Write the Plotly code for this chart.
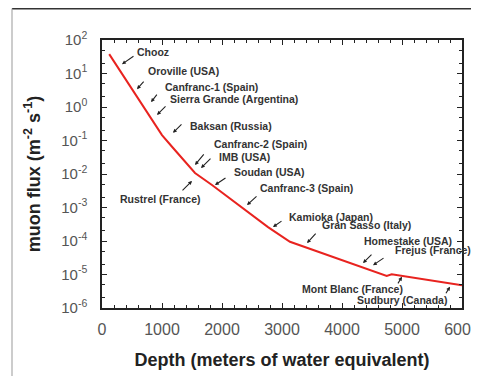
import math
import plotly.graph_objects as go

# ---- data ----
depth_mwe = [120, 400, 700, 1000, 1167, 1550, 1833, 2217, 2767, 3133, 3900, 4745, 4828, 5400, 6000]
muon_flux = [38, 6.4, 0.96, 0.145, 0.065, 0.0107, 0.0047, 0.00145, 2.6e-4, 9.5e-5, 3.1e-5, 9.1e-6, 1.02e-5, 7.1e-6, 4.8e-6]

sites = ["Chooz", "Oroville (USA)", "Canfranc-1 (Spain)", "Sierra Grande (Argentina)",
         "Baksan (Russia)", "Canfranc-2 (Spain)", "IMB (USA)", "Soudan (USA)",
         "Rustrel (France)", "Canfranc-3 (Spain)", "Kamioka (Japan)", "Gran Sasso (Italy)",
         "Homestake (USA)", "Frejus (France)", "Mont Blanc (France)", "Sudbury (Canada)"]
site_depth = [333, 583, 817, 917, 1183, 1550, 1650, 1883, 1500, 2417, 2850, 3417, 4350, 4517, 5000, 5800]
site_flux = [19, 3.4, 1.4, 0.58, 0.17, 0.0186, 0.015, 0.0047, 0.0062, 0.00118, 2.6e-4, 8.7e-5, 2.2e-5, 1.9e-5, 8.5e-6, 4.3e-6]

y_tickvals = [1e-6, 1e-5, 1e-4, 1e-3, 1e-2, 1e-1, 1, 10, 100]
y_ticktext = ["10<sup>-6</sup>", "10<sup>-5</sup>", "10<sup>-4</sup>", "10<sup>-3</sup>", "10<sup>-2</sup>",
              "10<sup>-1</sup>", "10<sup>0</sup>", "10<sup>1</sup>", "10<sup>2</sup>"]
x_tickvals = [0, 1000, 2000, 3000, 4000, 5000, 6000]

# ---- layout helpers (pixel offsets of arrow tails and label anchors) ----
arrow_tail = [(13, -9), (8, -9), (7, -9), (10, -10), (10, -10), (10, -12), (11, -11), (12, -8),
              (-11, 11), (11, -10), (10, -7), (10, -11), (10, -10), (12, -8), (-5, 8), (-5, 8)]
text_off = [(13, -12), (9, -18), (12, -15), (11, -16), (15, -7), (17, -21), (16, -11), (17, -13),
            (-74, 18), (11, -17), (14, -10), (13, -18), (-1, -22), (20, -15), (-102, 12), (-95, 13)]

fig = go.Figure()
fig.add_trace(go.Scatter(x=depth_mwe, y=muon_flux, mode="lines",
                         line=dict(color="#e8231f", width=2), showlegend=False,
                         hoverinfo="skip", cliponaxis=False))
# invisible copy on the mirrored (top/right) axes so they get drawn with their own ticks
fig.add_trace(go.Scatter(x=depth_mwe, y=muon_flux, mode="lines", xaxis="x2", yaxis="y2",
                         line=dict(color="rgba(0,0,0,0)", width=0), showlegend=False,
                         hoverinfo="skip"))

annotations = []
for name, d, f, (tx, ty), (ox, oy) in zip(sites, site_depth, site_flux, arrow_tail, text_off):
    annotations.append(dict(x=d, y=math.log10(f), xref="x", yref="y", text="",
                            showarrow=True, ax=tx, ay=ty, arrowhead=2, arrowsize=0.7,
                            arrowwidth=1.1, arrowcolor="#222"))
    annotations.append(dict(x=d, y=math.log10(f), xref="x", yref="y", text="<b>" + name + "</b>",
                            showarrow=False, xanchor="left", yanchor="middle",
                            xshift=ox, yshift=-oy,
                            font=dict(family="Liberation Sans, Arial", size=10.5, color="#333")))

tick_style = dict(ticks="inside", ticklen=5, tickwidth=1, tickcolor="#222", showline=True,
                  linecolor="#222", linewidth=1.5, showgrid=False, zeroline=False, automargin=False)

# the page adds an 8 px body margin, so the figure is sized/positioned accordingly
fig.update_layout(
    width=471, height=368,
    margin=dict(l=94, r=17, t=32, b=68),
    paper_bgcolor="white", plot_bgcolor="white",
    font=dict(family="Liberation Sans, Arial", color="#555"),
    annotations=annotations,
    shapes=[
        dict(type="line", xref="paper", yref="paper", x0=-0.25, x1=1.1, y0=1.1175, y1=1.1175,
             line=dict(color="#333", width=2)),
        dict(type="line", xref="paper", yref="paper", x0=-0.25, x1=-0.25, y0=1.1175, y1=-0.26,
             line=dict(color="#999", width=1)),
    ],
    xaxis=dict(range=[0, 6000], tickvals=x_tickvals, ticklabeloverflow="allow",
               minor=dict(dtick=200, ticks="inside", ticklen=3, tickcolor="#222", showgrid=False),
               tickfont=dict(size=16, color="#555"), ticklabelstandoff=6,
               title=dict(text="<b>Depth (meters of water equivalent)</b>", standoff=16,
                          font=dict(size=18, color="#222")), **tick_style),
    yaxis=dict(type="log", range=[-6, 2], tickvals=y_tickvals, ticktext=y_ticktext,
               ticklabeloverflow="allow",
               minor=dict(ticks="inside", ticklen=3, tickcolor="#222", showgrid=False),
               tickfont=dict(size=15, color="#555"), ticklabelstandoff=10,
               title=dict(text="<b>muon flux (m<sup>-2</sup> s<sup>-1</sup>)</b>", standoff=16,
                          font=dict(size=18, color="#222")), **tick_style),
    xaxis2=dict(range=[0, 6000], tickvals=x_tickvals, overlaying="x", side="top",
                showticklabels=False, anchor="y2",
                minor=dict(dtick=200, ticks="inside", ticklen=3, tickcolor="#222", showgrid=False),
                **tick_style),
    yaxis2=dict(type="log", range=[-6, 2], tickvals=y_tickvals, overlaying="y", side="right",
                showticklabels=False, anchor="x2",
                minor=dict(ticks="inside", ticklen=3, tickcolor="#222", showgrid=False),
                **tick_style),
)

fig.write_html("out.html")
